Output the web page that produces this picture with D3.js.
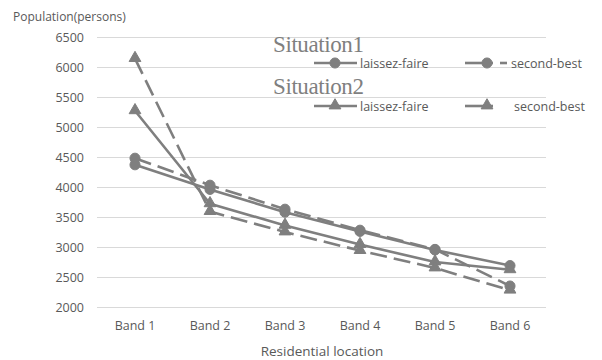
<!DOCTYPE html>
<html><head><meta charset="utf-8">
<script src="https://cdn.jsdelivr.net/npm/d3@7"></script>
<style>body{margin:0;background:#fff}svg{display:block}</style>
</head><body>
<svg id="c" width="602" height="360"></svg>
<script>
const categories = ["Band 1","Band 2","Band 3","Band 4","Band 5","Band 6"];
const s1Laissez = [4370, 3960, 3580, 3260, 2950, 2690];
const s1Second  = [4480, 4030, 3630, 3280, 2960, 2350];
const s2Laissez = [5270, 3720, 3360, 3040, 2750, 2620];
const s2Second  = [6140, 3590, 3250, 2940, 2650, 2280];
const yTicks = [2000,2500,3000,3500,4000,4500,5000,5500,6000,6500];

const series = [
  {name:"laissez-faire", vals:s1Laissez, marker:"circle", dash:null},
  {name:"second-best", vals:s1Second, marker:"circle", dash:"17,7"},
  {name:"laissez-faire", vals:s2Laissez, marker:"triangle", dash:null},
  {name:"second-best", vals:s2Second, marker:"triangle", dash:"17,7"}
];

const svg = d3.select("#c");
const col = "#7f7f7f";
const x = d3.scaleBand().domain(categories).range([97.5, 547.5]);
const y = d3.scaleLinear().domain([2000, 6500]).range([307, 37]);

const font = "'Open Sans', 'Noto Sans', sans-serif";

// gridlines
svg.append("g").selectAll("line").data(yTicks).join("line")
  .attr("x1", 97).attr("x2", 546)
  .attr("y1", d => Math.round(y(d)) + 0.5).attr("y2", d => Math.round(y(d)) + 0.5)
  .attr("stroke", "#d9d9d9").attr("stroke-width", 1);

// y axis
const ya = svg.append("g").attr("transform", "translate(84,0)")
  .call(d3.axisLeft(y).tickValues(yTicks).tickFormat(d3.format("d")).tickSize(0).tickPadding(0));
ya.select(".domain").remove();
ya.selectAll("text").attr("font-family", font).attr("font-size", 12.5).attr("fill", "#595959");

// x axis
const xa = svg.append("g").attr("transform", "translate(0,319)")
  .call(d3.axisBottom(x).tickSize(0).tickPadding(0));
xa.select(".domain").remove();
xa.selectAll("text").attr("font-family", font).attr("font-size", 12.5).attr("fill", "#595959").attr("dy", "0.9em");

svg.append("text").attr("x", 13).attr("y", 21).text("Population(persons)")
  .attr("font-family", font).attr("font-size", 12).attr("fill", "#595959");
svg.append("text").attr("x", 322).attr("y", 356).attr("text-anchor", "middle").text("Residential location")
  .attr("font-family", font).attr("font-size", 13.5).attr("fill", "#595959");

const circleSym = d3.symbol().type(d3.symbolCircle).size(80);
const triSym = d3.symbol().type(d3.symbolTriangle).size(60);
function drawMarker(g, type, cx, cy) {
  g.append("path").attr("d", type === "circle" ? circleSym() : triSym())
    .attr("transform", `translate(${cx},${cy + (type === "circle" ? 0 : -0.5)})`)
    .attr("fill", col).attr("stroke", col).attr("stroke-width", 1);
}

const line = d3.line().x((d, i) => x(categories[i]) + x.bandwidth() / 2).y(d => y(d));
series.forEach(s => {
  const g = svg.append("g");
  g.append("path").attr("d", line(s.vals)).attr("fill", "none")
    .attr("stroke", col).attr("stroke-width", 2.6)
    .attr("stroke-dasharray", s.dash).attr("stroke-linejoin", "round");
  s.vals.forEach((v, i) => drawMarker(g, s.marker, x(categories[i]) + x.bandwidth() / 2, y(v)));
});

// legend
const lg = svg.append("g");
const serif = "'Liberation Serif', 'DejaVu Serif', serif";
lg.append("text").attr("x", 273).attr("y", 52).text("Situation1")
  .attr("font-family", serif).attr("font-size", 23).attr("fill", "#7f7f7f").attr("letter-spacing", -0.4);
lg.append("text").attr("x", 273).attr("y", 94).text("Situation2")
  .attr("font-family", serif).attr("font-size", 23).attr("fill", "#7f7f7f").attr("letter-spacing", -0.4);

const legendRows = [
  {y: 63, items: [series[0], series[1]]},
  {y: 106, items: [series[2], series[3]]}
];
legendRows.forEach(r => {
  r.items.forEach((s, k) => {
    const x0 = k === 0 ? 314 : 465;
    const x1 = k === 0 ? 357 : 493;
    if (s.dash) {
      lg.append("line").attr("x1", x0).attr("x2", x1).attr("y1", r.y).attr("y2", r.y)
        .attr("stroke", col).attr("stroke-width", 2.6);
      if (s.marker === "circle") {
        lg.append("line").attr("x1", 500).attr("x2", 507).attr("y1", r.y).attr("y2", r.y)
          .attr("stroke", col).attr("stroke-width", 2.6);
      }
      drawMarker(lg, s.marker, 487, r.y);
    } else {
      lg.append("line").attr("x1", x0).attr("x2", x1).attr("y1", r.y).attr("y2", r.y)
        .attr("stroke", col).attr("stroke-width", 2.6);
      drawMarker(lg, s.marker, 335, r.y);
    }
    lg.append("text").attr("x", k === 0 ? 360 : (s.marker === "circle" ? 511 : 514)).attr("y", r.y + 4.5)
      .text(s.name).attr("font-family", font).attr("font-size", 12.5).attr("fill", "#595959");
  });
});
</script>
</body></html>
